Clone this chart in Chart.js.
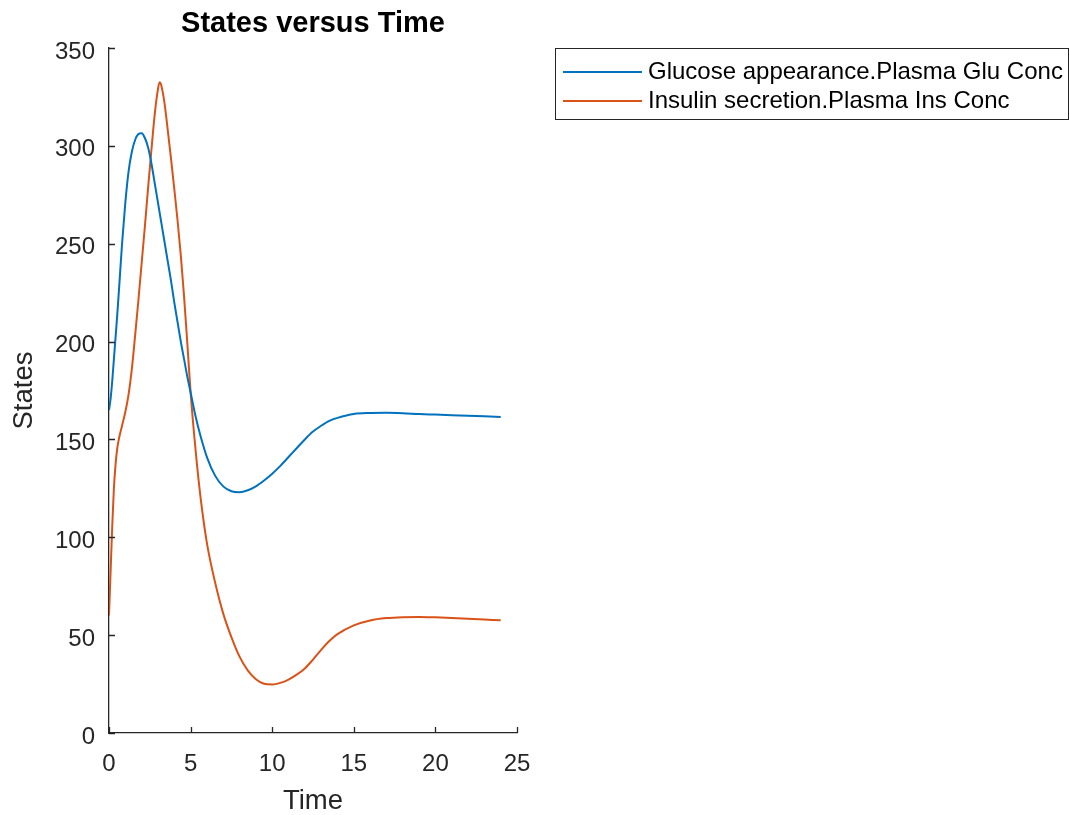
<!DOCTYPE html>
<html>
<head>
<meta charset="utf-8">
<script src="https://cdn.jsdelivr.net/npm/chart.js@4/dist/chart.umd.min.js"></script>
<style>
  html, body { margin: 0; padding: 0; background: #fff; }
  canvas { display: block; }
</style>
</head>
<body>
<canvas id="statesChart" width="1070" height="815"></canvas>
<script>
// simulation time points and the two states
const timePts = [0, 0.1, 0.2, 0.3, 0.4, 0.5, 0.6, 0.8, 1.0, 1.2, 1.4, 1.6, 1.8, 2.0, 2.2, 2.4, 2.6, 2.8, 3.0, 3.1,
  3.2, 3.4, 3.6, 3.8, 4.0, 4.2, 4.4, 4.6, 4.8, 5.0, 5.3, 5.6, 6.0, 6.5, 7.0, 7.5, 8.0, 8.5, 9.0, 9.5,
  10, 10.5, 11, 11.5, 12, 12.5, 13, 13.5, 14, 15, 16, 17, 18, 19, 20, 21, 22, 23, 24];
const glucoseConc = [165, 171, 180, 191, 202, 213, 225, 250, 271, 287, 297, 303, 306, 306.5, 304, 299, 291, 281, 271, 266,
  261, 251, 241, 231, 220, 210, 200, 191, 182, 174, 162, 152, 141, 131.5, 126, 123.5, 123, 124, 126, 129,
  132.5, 136.5, 141, 145.5, 150, 154, 157, 159.5, 161, 163, 163.5, 163.6, 163.4, 163, 162.7, 162.4, 162.1, 161.8, 161.5];
const insulinConc = [60, 83, 106, 125, 137, 145, 150, 157, 164, 173, 186, 203, 221, 240, 259, 279, 298, 316, 329, 332.5,
  331, 322, 308, 293.5, 278, 262, 244, 223, 199, 174, 145, 121, 97, 77, 61, 49, 39, 32, 27.5, 25.2,
  24.8, 25.6, 27.3, 29.8, 33, 37.5, 42.5, 47, 50.5, 55, 57.5, 58.7, 59.2, 59.3, 59.1, 58.8, 58.4, 58, 57.6];

const seriesNames = ['Glucose appearance.Plasma Glu Conc', 'Insulin secretion.Plasma Ins Conc'];
const seriesColors = ['#0072BD', '#D95319'];
const xTickVals = [0, 5, 10, 15, 20, 25];
const yTickVals = [0, 50, 100, 150, 200, 250, 300, 350];

const axisColor = '#262626';
const fontFace = '"Liberation Sans", Arial, Helvetica, sans-serif';

function toPoints(values) {
  return timePts.map((t, i) => ({ x: t, y: values[i] }));
}

// inward tick marks like MATLAB
const innerTicks = {
  id: 'innerTicks',
  afterDraw(chart) {
    const ctx = chart.ctx;
    const xs = chart.scales.x;
    const ys = chart.scales.y;
    const area = chart.chartArea;
    ctx.save();
    ctx.strokeStyle = axisColor;
    ctx.lineWidth = 1.3;
    ctx.beginPath();
    xTickVals.forEach(v => {
      const px = Math.round(xs.getPixelForValue(v)) + 0.5;
      ctx.moveTo(px, area.bottom);
      ctx.lineTo(px, area.bottom - 6);
    });
    yTickVals.forEach(v => {
      const py = Math.round(ys.getPixelForValue(v)) + 0.5;
      ctx.moveTo(area.left, py);
      ctx.lineTo(area.left + 6, py);
    });
    ctx.stroke();
    ctx.restore();
  }
};

// boxed legend to the right of the axes
const boxLegend = {
  id: 'boxLegend',
  afterDraw(chart) {
    const ctx = chart.ctx;
    const boxX = 555, boxY = 48, boxW = 513, boxH = 71;
    ctx.save();
    ctx.fillStyle = '#fff';
    ctx.fillRect(boxX, boxY, boxW, boxH);
    ctx.strokeStyle = axisColor;
    ctx.lineWidth = 1;
    ctx.strokeRect(boxX + 0.5, boxY + 0.5, boxW, boxH);
    ctx.font = '24px ' + fontFace;
    ctx.textBaseline = 'middle';
    ctx.fillStyle = '#000';
    seriesNames.forEach((name, i) => {
      const y = boxY + 24 + i * 29;
      ctx.strokeStyle = seriesColors[i];
      ctx.lineWidth = 2;
      ctx.beginPath();
      ctx.moveTo(563, y);
      ctx.lineTo(642, y);
      ctx.stroke();
      ctx.fillText(name, 648, y);
    });
    ctx.restore();
  }
};

const ctx = document.getElementById('statesChart').getContext('2d');
new Chart(ctx, {
  type: 'line',
  data: {
    datasets: seriesNames.map((name, i) => ({
      label: name,
      data: toPoints(i === 0 ? glucoseConc : insulinConc),
      borderColor: seriesColors[i],
      backgroundColor: seriesColors[i],
      borderWidth: 2,
      pointRadius: 0,
      fill: false,
      cubicInterpolationMode: 'monotone'
    }))
  },
  options: {
    responsive: false,
    animation: false,
    devicePixelRatio: 1,
    layout: { padding: { left: 0, right: 553, top: 0, bottom: 0 } },
    plugins: {
      legend: { display: false },
      tooltip: { enabled: false },
      title: {
        display: true,
        text: 'States versus Time',
        fullSize: false,
        color: '#000',
        font: { family: fontFace, size: 29, weight: 'bold', lineHeight: 1.2 },
        padding: { top: 6.5, bottom: 6.7 }
      }
    },
    scales: {
      x: {
        type: 'linear',
        min: 0,
        max: 25,
        afterBuildTicks: s => { s.ticks = xTickVals.map(v => ({ value: v })); },
        afterFit: s => { s.height = 82; },
        grid: { display: false, drawTicks: false },
        border: { display: true, color: axisColor, width: 1.3 },
        ticks: { color: axisColor, padding: 17, font: { family: fontFace, size: 24 } },
        title: {
          display: true, text: 'Time', color: axisColor,
          font: { family: fontFace, size: 27.5, lineHeight: 1 },
          padding: { top: 0, bottom: 0 }
        }
      },
      y: {
        type: 'linear',
        min: 0,
        max: 350,
        afterBuildTicks: s => { s.ticks = yTickVals.map(v => ({ value: v })); },
        afterFit: s => { s.width = 109; },
        grid: { display: false, drawTicks: false },
        border: { display: true, color: axisColor, width: 1.3 },
        ticks: {
          color: axisColor,
          padding: 14,
          font: { family: fontFace, size: 24, lineHeight: '8px' },
          // blank first line pushes the label a few px below its tick, as in the original
          callback: v => ['', String(v)]
        },
        title: {
          display: true, text: 'States', color: axisColor,
          font: { family: fontFace, size: 27.5, lineHeight: 1 },
          padding: { top: 11, bottom: 0 }
        }
      }
    }
  },
  plugins: [innerTicks, boxLegend]
});
</script>
</body>
</html>
